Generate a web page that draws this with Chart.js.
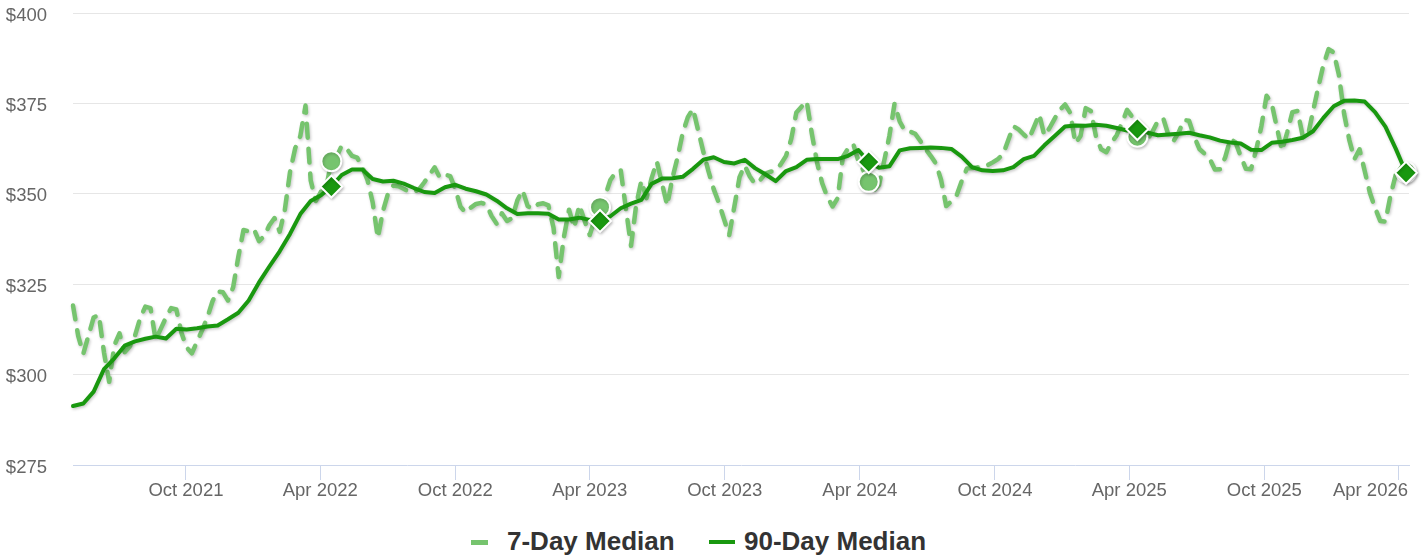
<!DOCTYPE html>
<html>
<head>
<meta charset="utf-8">
<script src="https://cdn.jsdelivr.net/npm/chart.js@4.4.1/dist/chart.umd.min.js"></script>
<style>
  html, body { margin: 0; padding: 0; background: #ffffff; }
  #wrap { position: relative; width: 1422px; height: 558px; font-family: 'Liberation Sans', Arial, sans-serif; }
  #chart { position: absolute; left: 0; top: 0; }
  .legend-symbol { position: absolute; }
  .legend-label { position: absolute; font-weight: bold; font-size: 26px; line-height: 26px; color: #333333; white-space: nowrap; }
</style>
</head>
<body>
<div id="wrap">
  <canvas id="chart" width="1422" height="520"></canvas>
  <div id="legend"></div>
</div>
<script>
// Series start and spacing (days between points)
const startDate = '2021-05-01';
const axisEndDate = '2026-04-15';
const sevenDayStep = 7;
const ninetyDayStep = 14;

const seriesNames = ['7-Day Median', '90-Day Median'];

// 7-day median, one value per week
const sevenDayValues = [
  319.1, 310.7, 305.8, 310.8, 315.8, 316.5, 306.1, 298, 308.1, 311.4,
  306.2, 307.8, 310.8, 315.6, 318.8, 318.4, 309.6, 312.7, 315.8, 318.4,
  318, 311.5, 307.5, 305.9, 309.1, 312.3, 315.8, 320.3, 323, 322.8,
  320.5, 324.2, 332.6, 340, 339.6, 340.3, 336.9, 338.3, 341.3, 343.3,
  339.5, 345.6, 356, 362.6, 366, 374.4, 353.7, 348, 350.6, 351.7,
  359, 360.2, 363.3, 362.4, 360.5, 360, 357.4, 353.8, 347.6, 337.8,
  345.3, 350.2, 352.3, 352.1, 351.4, 350.6, 350.5, 351.3, 353.2, 355.3,
  357.3, 354.5, 355.3, 354.9, 351.3, 346.4, 344.8, 346.2, 347.2, 347.5,
  347.1, 343.9, 341.7, 344.6, 342.5, 343.3, 348.2, 351, 346.6, 345.8,
  347.1, 347.4, 346.8, 340.6, 327, 338, 345.6, 340.6, 346.9, 342.6,
  338.6, 343, 346.3, 349.5, 353.8, 355.9, 356.6, 346, 335.6, 346.9,
  353.6, 348.8, 354.4, 358.9, 352.8, 346.8, 354.3, 360, 366.8, 371.2,
  373.5, 367.5, 361.6, 356.2, 351.3, 347.5, 343, 338.6, 346.5, 354.6,
  357.8, 354.8, 352.7, 353.8, 355.6, 356.1, 356.5, 358.2, 360.5, 365.1,
  372.5, 374.1, 375.6, 366.6, 358.7, 352.9, 349.1, 346.5, 348.8, 360.2,
  362.5, 363.8, 359.1, 356.4, 353.3, 351, 352.4, 359.1, 366, 374.9,
  370, 367.4, 367.2, 366.6, 364.6, 362.4, 360.5, 358.4, 353.9, 346.6,
  347.9, 349.5, 353.5, 357, 357.1, 357.3, 357.4, 357.9, 358.7, 359.6,
  360.9, 364.8, 368.7, 367.8, 366.4, 365.1, 368.5, 372, 366.1, 368.2,
  370.8, 373.2, 374.7, 372.4, 364, 366, 373.7, 372.9, 365.8, 362.3,
  361.5, 364.2, 366.2, 369.5, 373.2, 371.3, 365.8, 365.6, 365.1, 367.4,
  370.2, 370.9, 366.3, 364.6, 367, 370.4, 370.2, 365.8, 362.4, 361.1,
  359.7, 356.7, 356.8, 360.1, 365.2, 364.2, 360.4, 356.9, 356.8, 362.2,
  368.7, 377.1, 375, 368.3, 361.9, 367, 372.6, 372.9, 366, 366,
  372.9, 379.4, 385.6, 390, 389.1, 382.9, 372.2, 365, 359.6, 362.3,
  356.3, 350.3, 346.1, 342.5, 342.3, 349.6, 355.2, 357.1, 356
];

// 90-day median, one value every two weeks
const ninetyDayValues = [
  291.3, 292, 295.3, 301.5, 304.5, 308, 309.2, 309.9, 310.5, 310,
  312.7, 312.5, 312.8, 313.3, 313.6, 315.3, 317.1, 320.5, 325.5, 329.9,
  334.1, 338.9, 344.4, 348, 349.6, 352, 355.2, 356.7, 356.7, 354.1,
  353.4, 353.6, 352.8, 351.6, 350.5, 350.2, 351.8, 352.5, 351.4, 350.7,
  349.8, 348.1, 346, 344.4, 344.6, 344.6, 344.5, 342.9, 342.9, 343.4,
  342.8, 342.5, 343.8, 346, 347.3, 348.3, 352.8, 354.2, 354.3, 354.7,
  356.9, 359.4, 360.1, 358.8, 358.4, 359.4, 357.1, 355.4, 353.5, 356.3,
  357.4, 359.4, 359.6, 359.6, 359.6, 360.5, 362.1, 358.8, 357.2, 357.6,
  362, 362.6, 362.7, 362.8, 362.7, 362.4, 360.3, 357.4, 356.5, 356.3,
  356.5, 357.4, 359.6, 360.5, 363.4, 366, 368.6, 368.9, 368.8, 369.1,
  368.8, 368.2, 367.5, 367.9, 366.9, 366.2, 366.4, 366.6, 366.9, 366.2,
  365.6, 364.7, 364.2, 363.9, 362.2, 362.1, 364.1, 364.4, 364.9, 365.5,
  367.3, 371, 374.2, 375.7, 375.8, 375.5, 372.6, 368.6, 362.5, 355.8
];

// yearly highlighted points (indexes into the series above)
const sevenDayMarkers = [50, 102, 154, 206, 258];
const ninetyDayMarkers = [25, 51, 77, 103, 129];

const tickDates = ['2021-10-01', '2022-04-01', '2022-10-01', '2023-04-01', '2023-10-01',
                   '2024-04-01', '2024-10-01', '2025-04-01', '2025-10-01', '2026-04-01'];
const tickLabels = ['Oct 2021', 'Apr 2022', 'Oct 2022', 'Apr 2023', 'Oct 2023',
                    'Apr 2024', 'Oct 2024', 'Apr 2025', 'Oct 2025', 'Apr 2026'];
const yMin = 275;
const yMax = 400;
const yStep = 25;

const COLORS = {
  light: '#76c46e',
  dark: '#19980f',
  grid: '#e6e6e6',
  axis: '#ccd6eb',
  label: '#666666',
  legend: '#333333',
};

const DAY_MS = 86400000;
function dayOffset(d) {
  return (Date.parse(d + 'T00:00:00Z') - Date.parse(startDate + 'T00:00:00Z')) / DAY_MS;
}

function toPoints(values, step) {
  return values.map((v, i) => ({ x: i * step, y: v }));
}

const tickDays = tickDates.map(dayOffset);

// Soft drop shadow under each line
const lineShadow = {
  id: 'lineShadow',
  beforeDatasetDraw(chart) {
    const ctx = chart.ctx;
    ctx.save();
    ctx.shadowColor = 'rgba(0, 0, 0, 0.22)';
    ctx.shadowBlur = 3;
    ctx.shadowOffsetX = 1;
    ctx.shadowOffsetY = 1.5;
  },
  afterDatasetDraw(chart) {
    chart.ctx.restore();
  },
};

// Keep the last x label inside the plot, right-aligned
const edgeLabel = {
  id: 'edgeLabel',
  beforeDraw(chart) {
    const scale = chart.scales.x;
    const items = scale.getLabelItems();
    const last = items[items.length - 1];
    if (last) {
      last.options.textAlign = 'right';
      last.options.translation[0] = scale.right - 1;
    }
  },
};

Chart.defaults.font.family = "'Liberation Sans', Arial, sans-serif";

new Chart(document.getElementById('chart'), {
  type: 'line',
  data: {
    datasets: [
      {
        label: seriesNames[1],
        data: toPoints(ninetyDayValues, ninetyDayStep),
        borderColor: COLORS.dark,
        backgroundColor: COLORS.dark,
        borderWidth: 4,
        borderJoinStyle: 'round',
        borderCapStyle: 'round',
        tension: 0,
        pointStyle: 'rectRot',
        pointRadius: (c) => ninetyDayMarkers.includes(c.dataIndex) ? 11 : 0,
        pointBackgroundColor: COLORS.dark,
        pointBorderColor: '#ffffff',
        pointBorderWidth: 2,
        clip: false,
        order: 0,
      },
      {
        label: seriesNames[0],
        data: toPoints(sevenDayValues, sevenDayStep),
        borderColor: COLORS.light,
        backgroundColor: COLORS.light,
        borderWidth: 4.5,
        borderDash: [14, 11],
        borderJoinStyle: 'round',
        borderCapStyle: 'round',
        tension: 0,
        pointStyle: 'circle',
        pointRadius: (c) => sevenDayMarkers.includes(c.dataIndex) ? 10 : 0,
        pointBackgroundColor: COLORS.light,
        pointBorderColor: '#ffffff',
        pointBorderWidth: 2,
        clip: false,
        order: 1,
      },
    ],
  },
  options: {
    responsive: false,
    animation: false,
    events: [],
    layout: { padding: { top: 10, right: 12, left: 0, bottom: 0 } },
    plugins: {
      legend: { display: false },
      tooltip: { enabled: false },
    },
    scales: {
      x: {
        type: 'linear',
        min: 0,
        max: dayOffset(axisEndDate),
        afterBuildTicks: (scale) => { scale.ticks = tickDays.map((v) => ({ value: v })); },
        afterFit: (scale) => { scale.height = 55; scale.paddingLeft = 0; scale.paddingRight = 0; },
        grid: {
          drawOnChartArea: false,
          drawTicks: true,
          tickLength: 15,
          tickColor: COLORS.axis,
        },
        border: { display: true, color: COLORS.axis, width: 1 },
        ticks: {
          autoSkip: false,
          maxRotation: 0,
          padding: 0,
          color: COLORS.label,
          font: { size: 18.5 },
          callback: (value) => {
            const i = tickDays.indexOf(value);
            return i >= 0 ? tickLabels[i] : '';
          },
        },
      },
      y: {
        min: yMin,
        max: yMax,
        afterFit: (scale) => { scale.width = 73; scale.paddingTop = 0; scale.paddingBottom = 0; },
        grid: {
          color: (c) => (c.tick && c.tick.value === yMin) ? 'rgba(0,0,0,0)' : COLORS.grid,
          drawTicks: false,
        },
        border: { display: false },
        ticks: {
          stepSize: yStep,
          padding: 26,
          labelOffset: 2.5,
          color: COLORS.label,
          font: { size: 18.5 },
          callback: (value) => '$' + value,
        },
      },
    },
  },
  plugins: [lineShadow, edgeLabel],
});

// HTML legend under the plot
const legendItems = [
  { name: seriesNames[0], color: COLORS.light, symLeft: 471, symWidth: 17, symHeight: 5, textLeft: 507 },
  { name: seriesNames[1], color: COLORS.dark, symLeft: 709, symWidth: 26, symHeight: 4, textLeft: 744 },
];
const legend = document.getElementById('legend');
legendItems.forEach((item) => {
  const sym = document.createElement('div');
  sym.className = 'legend-symbol';
  sym.style.left = item.symLeft + 'px';
  sym.style.top = '540px';
  sym.style.width = item.symWidth + 'px';
  sym.style.height = item.symHeight + 'px';
  sym.style.background = item.color;
  legend.appendChild(sym);

  const label = document.createElement('div');
  label.className = 'legend-label';
  label.style.left = item.textLeft + 'px';
  label.style.top = '528px';
  label.textContent = item.name;
  legend.appendChild(label);
});
</script>
</body>
</html>
